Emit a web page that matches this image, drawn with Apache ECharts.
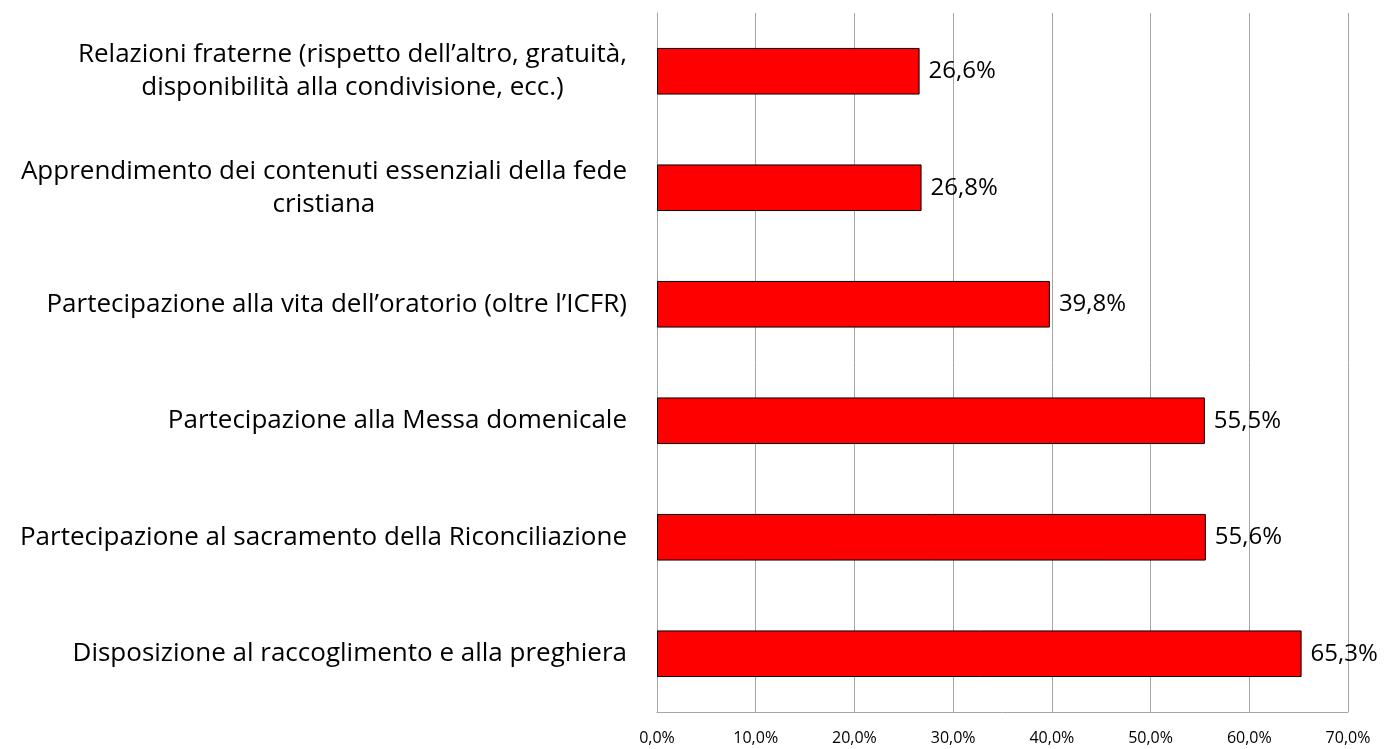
<!DOCTYPE html>
<html>
<head>
<meta charset="utf-8">
<script src="https://cdn.jsdelivr.net/npm/echarts@6/dist/echarts.min.js"></script>
<style>
  html, body { margin: 0; padding: 0; background: #fff; }
  #chart { width: 1384px; height: 749px; }
</style>
</head>
<body>
<div id="chart"></div>
<script>
// categories, top to bottom
var categories = [
  'Relazioni fraterne (rispetto dell\u2019altro, gratuità,\ndisponibilità alla condivisione, ecc.)',
  'Apprendimento dei contenuti essenziali della fede\ncristiana',
  'Partecipazione alla vita dell\u2019oratorio (oltre l\u2019ICFR)',
  'Partecipazione alla Messa domenicale',
  'Partecipazione al sacramento della Riconciliazione',
  'Disposizione al raccoglimento e alla preghiera'
];
var values = [26.6, 26.8, 39.8, 55.5, 55.6, 65.3];
var xTicks = [0, 10, 20, 30, 40, 50, 60, 70];

function pct(v) {
  return Number(v).toFixed(1).replace('.', ',') + '%';
}

var chart = echarts.init(document.getElementById('chart'));
chart.setOption({
  animation: false,
  backgroundColor: '#ffffff',
  grid: { left: 657, right: 36, top: 13, bottom: 37 },
  xAxis: {
    type: 'value',
    min: xTicks[0],
    max: xTicks[xTicks.length - 1],
    interval: 10,
    axisLine: { show: true, lineStyle: { color: '#a6a6a6', width: 1 } },
    axisTick: { show: false },
    splitLine: { show: true, lineStyle: { color: '#a6a6a6', width: 1 } },
    axisLabel: {
      margin: 18,
      fontFamily: 'Open Sans',
      fontSize: 16,
      color: '#000',
      formatter: pct
    }
  },
  yAxis: {
    type: 'category',
    inverse: true,
    data: categories,
    axisLine: { show: true, lineStyle: { color: '#a6a6a6', width: 1 } },
    axisTick: { show: false },
    axisLabel: {
      margin: 30,
      formatter: function (v) { return '{c|' + v + '}'; },
      rich: {
        c: {
          align: 'center',
          fontFamily: 'Open Sans',
          fontSize: 26,
          lineHeight: 33,
          color: '#000'
        }
      }
    }
  },
  series: [{
    type: 'bar',
    data: values,
    barCategoryGap: '60%',
    itemStyle: { color: '#ff0000', borderColor: '#000', borderWidth: 1 },
    label: {
      show: true,
      position: 'right',
      distance: 9,
      fontFamily: 'Open Sans',
      fontSize: 24,
      color: '#000',
      formatter: function (p) { return pct(p.value); }
    }
  }]
});
</script>
</body>
</html>
